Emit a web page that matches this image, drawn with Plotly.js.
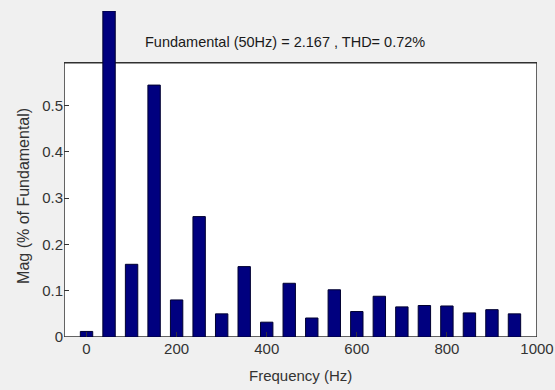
<!DOCTYPE html>
<html>
<head>
<meta charset="utf-8">
<script src="https://cdn.plot.ly/plotly-3.0.1.min.js"></script>
<style>html,body{margin:0;padding:0;background:#F0F0F0;}#chart{width:555px;height:390px;}</style>
</head>
<body>
<div id="chart"></div>
<script>
// Harmonic spectrum data (Mag as % of fundamental)
const freqHz = [0, 50, 100, 150, 200, 250, 300, 350, 400, 450, 500, 550, 600, 650, 700, 750, 800, 850, 900, 950];
const magPct = [0.012, 0.704, 0.157, 0.544, 0.080, 0.260, 0.050, 0.152, 0.032, 0.116, 0.041, 0.102, 0.055, 0.088, 0.065, 0.068, 0.067, 0.052, 0.059, 0.050];
const xTicks = [0, 200, 400, 600, 800, 1000];
const xTickText = ['0', '200', '400', '600', '800', '1000'];
const yTicks = [0, 0.1, 0.2, 0.3, 0.4, 0.5];
const yTickText = ['0', '0.1', '0.2', '0.3', '0.4', '0.5'];
const titleText = 'Fundamental (50Hz) = 2.167 , THD= 0.72%';
const xTitle = 'Frequency (Hz)';
const yTitle = 'Mag (% of Fundamental)';

const xRange = [-50, 1000];
const frameTop = 0.592;
const yTop = 0.704;
const font = '"Liberation Sans", Arial, sans-serif';
const tickCol = '#333333';

const trace = {
  type: 'bar',
  x: freqHz,
  y: magPct,
  marker: {color: '#00007F', line: {color: '#000030', width: 1}},
  hoverinfo: 'x+y'
};

const common = {showgrid: false, zeroline: false, showline: false, ticks: 'inside', ticklen: 5, tickcolor: tickCol, tickwidth: 1};

const layout = {
  width: 555, height: 390,
  margin: {l: 64, r: 18, t: 11, b: 53, pad: 0},
  paper_bgcolor: '#F0F0F0',
  plot_bgcolor: 'rgba(0,0,0,0)',
  showlegend: false,
  bargap: 0.45,
  font: {family: font, size: 15, color: tickCol},
  xaxis: Object.assign({}, common, {
    range: xRange, tickvals: xTicks, ticktext: xTickText,
    tickfont: {family: font, size: 15, color: tickCol}, ticklabelstandoff: 1
  }),
  xaxis2: Object.assign({}, common, {
    range: xRange, tickvals: xTicks, overlaying: 'x', anchor: 'free',
    position: frameTop / yTop, side: 'top', showticklabels: false
  }),
  yaxis: Object.assign({}, common, {
    range: [0, yTop], tickvals: yTicks, ticktext: yTickText,
    tickfont: {family: font, size: 15, color: tickCol}
  }),
  yaxis2: Object.assign({}, common, {
    range: [0, yTop], tickvals: yTicks, overlaying: 'y', anchor: 'x',
    side: 'right', showticklabels: false
  }),
  shapes: [{
    type: 'rect', xref: 'x', yref: 'y', x0: xRange[0], x1: xRange[1], y0: 0, y1: frameTop,
    fillcolor: '#FFFFFF', line: {color: '#303030', width: 1.5}, layer: 'below'
  }],
  annotations: [
    {text: titleText, xref: 'paper', yref: 'paper', x: 0.4675, y: 0.904, showarrow: false,
     xanchor: 'center', yanchor: 'middle', font: {family: font, size: 14.5, color: '#1a1a1a'}},
    {text: xTitle, xref: 'paper', yref: 'paper', x: 0.5, y: (337.3 - 376) / 326.6, showarrow: false,
     xanchor: 'center', yanchor: 'middle', font: {family: font, size: 15, color: tickCol}},
    {text: yTitle, xref: 'paper', yref: 'paper', x: (24 - 64) / 472.7, y: (337.3 - 196) / 326.6, showarrow: false,
     textangle: -90, xanchor: 'center', yanchor: 'middle', font: {family: font, size: 16, color: tickCol}}
  ]
};

Plotly.newPlot('chart', [trace], layout, {displayModeBar: false, staticPlot: true});
</script>
</body>
</html>
